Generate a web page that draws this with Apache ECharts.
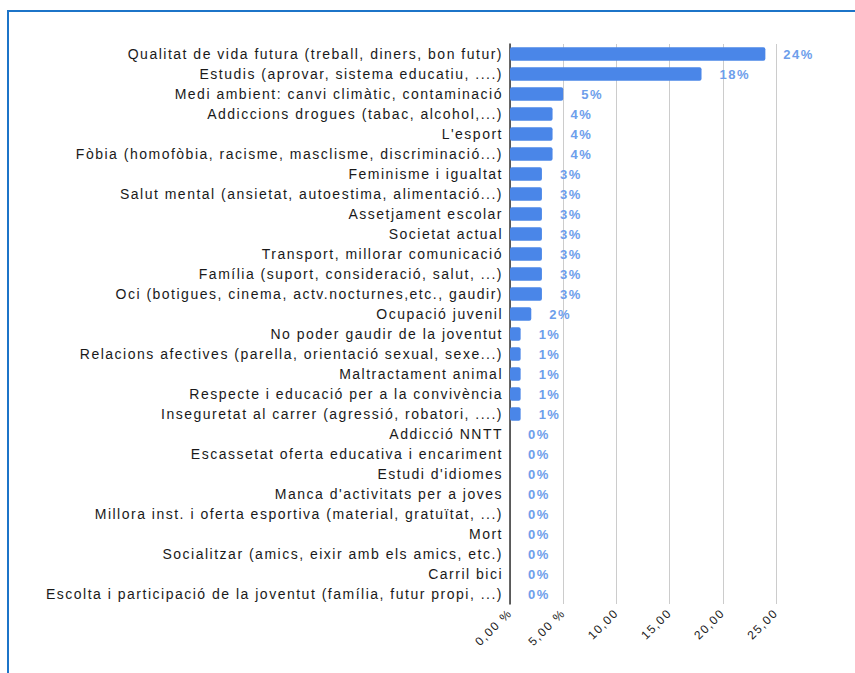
<!DOCTYPE html>
<html>
<head>
<meta charset="utf-8">
<script src="https://cdn.jsdelivr.net/npm/echarts@6/dist/echarts.min.js"></script>
<style>
  html, body { margin: 0; padding: 0; background: #fff; }
  #frame { position: absolute; left: 7px; top: 10px; width: 900px; height: 700px;
           border-top: 2px solid #1c74c8; border-left: 2px solid #1c74c8; }
  #container { position: absolute; left: 0; top: 0; width: 855px; height: 673px; }
  /* the source export draws its text with wide tracking */
  #container svg text { letter-spacing: 1.5px; }
</style>
</head>
<body>
<div id="frame"></div>
<div id="container"></div>
<script type="text/javascript">
  var categories = [
    'Qualitat de vida futura (treball, diners, bon futur)',
    'Estudis (aprovar, sistema educatiu, ....)',
    'Medi ambient: canvi climàtic, contaminació',
    'Addiccions drogues (tabac, alcohol,...)',
    "L'esport",
    'Fòbia (homofòbia, racisme, masclisme, discriminació...)',
    'Feminisme i igualtat',
    'Salut mental (ansietat, autoestima, alimentació...)',
    'Assetjament escolar',
    'Societat actual',
    'Transport, millorar comunicació',
    'Família (suport, consideració, salut, ...)',
    'Oci (botigues, cinema, actv.nocturnes,etc., gaudir)',
    'Ocupació juvenil',
    'No poder gaudir de la joventut',
    'Relacions afectives (parella, orientació sexual, sexe...)',
    'Maltractament animal',
    'Respecte i educació per a la convivència',
    'Inseguretat al carrer (agressió, robatori, ....)',
    'Addicció NNTT',
    'Escassetat oferta educativa i encariment',
    "Estudi d'idiomes",
    "Manca d'activitats per a joves",
    'Millora inst. i oferta esportiva (material, gratuïtat, ...)',
    'Mort',
    'Socialitzar (amics, eixir amb els amics, etc.)',
    'Carril bici',
    'Escolta i participació de la joventut (família, futur propi, ...)'
  ];
  var values = [24, 18, 5, 4, 4, 4, 3, 3, 3, 3, 3, 3, 3, 2, 1, 1, 1, 1, 1, 0, 0, 0, 0, 0, 0, 0, 0, 0];
  var xTickLabels = ['0,00 %', '5,00 %', '10,00', '15,00', '20,00', '25,00'];

  var myChart = echarts.init(document.getElementById('container'), null, { renderer: 'svg' });
  var option = {
    animation: false,
    textStyle: { fontFamily: 'Liberation Sans' },
    grid: { left: 510, right: 79, top: 44, bottom: 69 },
    xAxis: {
      type: 'value',
      min: 0,
      max: 25,
      interval: 5,
      axisLine: { show: false },
      axisTick: { show: false },
      splitLine: { lineStyle: { color: '#cccccc', width: 1 } },
      axisLabel: {
        rotate: 45,
        fontSize: 12,
        color: '#1a1a1a',
        margin: 7,
        formatter: function (v) { return xTickLabels[Math.round(v / 5)]; }
      }
    },
    yAxis: {
      type: 'category',
      inverse: true,
      data: categories,
      axisLine: { show: true, lineStyle: { color: '#333', width: 1.5 } },
      axisTick: { show: false },
      axisLabel: {
        fontSize: 14,
        color: '#1a1a1a',
        margin: 7,
        interval: 0
      }
    },
    series: [
      {
        type: 'bar',
        data: values,
        barCategoryGap: '32%',
        itemStyle: { color: '#4a86e8', borderRadius: 2 },
        label: {
          show: true,
          position: 'right',
          distance: 18,
          fontSize: 13,
          fontWeight: 'bold',
          color: '#6d9eeb',
          formatter: '{c}%'
        }
      }
    ]
  };
  option && myChart.setOption(option);
</script>
</body>
</html>
